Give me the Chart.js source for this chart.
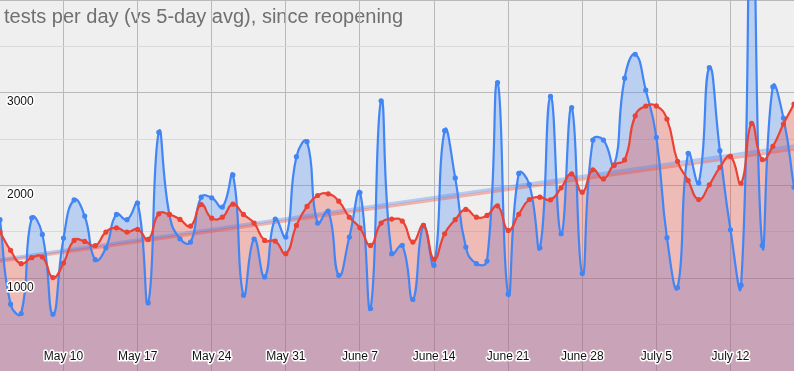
<!DOCTYPE html>
<html>
<head>
    <title>tests per day</title>
    <script src="https://cdn.jsdelivr.net/npm/chart.js@4/dist/chart.umd.min.js"></script>
    <style>
        body { margin: 0; background: #efefef; }
    </style>
</head>
<body>
    <canvas id="myChart" width="794" height="371"></canvas>
    <script>
        // day 0 = May 4 (reopening), one value per day up to July 18
        var testsPerDay = [1631, 720, 620, 1652, 1473, 612, 1433, 1845, 1670, 1200,
            1326, 1688, 1631, 1810, 735, 2573, 1688, 1426, 1390, 1874,
            1867, 1767, 2114, 817, 1422, 1014, 1638, 1444, 2311, 2472,
            1595, 1724, 1032, 1444, 1924, 674, 2913, 1265, 1354, 771,
            1570, 1140, 2591, 2082, 1337, 1157, 1186, 3110, 828, 2130,
            2010, 1329, 2960, 1480, 2841, 1050, 2490, 2490, 2215, 3157,
            3415, 3028, 2519, 1437, 900, 2347, 2028, 3271, 2376, 1523,
            925, 5100, 1354, 3064, 2727, 1981];
        var avg5Day = [1498, 1301, 1157, 1222, 1229, 1007, 1164, 1408, 1397, 1351,
            1498, 1544, 1498, 1526, 1419, 1695, 1688, 1634, 1562, 1795,
            1648, 1659, 1799, 1688, 1595, 1408, 1401, 1265, 1570, 1774,
            1892, 1910, 1831, 1659, 1544, 1354, 1595, 1638, 1616, 1390,
            1570, 1204, 1480, 1631, 1742, 1659, 1677, 1781, 1516, 1690,
            1849, 1874, 1846, 1975, 2125, 1928, 2168, 2071, 2222, 2276,
            2752, 2856, 2858, 2716, 2261, 2053, 1849, 2007, 2196, 2315,
            2024, 2669, 2279, 2422, 2663, 2878];
        // trend lines, first and last day
        var trendDays = [0, 75];
        var testsTrend = [1201, 2426];
        var avgTrend = [1183, 2390];

        var tickDays = [6, 13, 20, 27, 34, 41, 48, 55, 62, 69];
        var tickLabels = ['May 10', 'May 17', 'May 24', 'May 31', 'June 7', 'June 14',
            'June 21', 'June 28', 'July 5', 'July 12'];
        var yLabels = [1000, 2000, 3000];
        var title = 'tests per day (vs 5-day avg), since reopening';

        var BLUE = 'rgb(66, 133, 244)';
        var RED = 'rgb(234, 67, 53)';

        function toPoints(arr) {
            return arr.map(function (v, i) { return { x: i, y: v }; });
        }
        function trendPoints(arr) {
            return arr.map(function (v, i) { return { x: trendDays[i], y: v }; });
        }

        var labelPlugin = {
            id: 'labels',
            beforeDraw: function (chart) {
                var c = chart.ctx;
                c.save();
                c.fillStyle = '#efefef';
                c.fillRect(0, 0, chart.width, chart.height);
                c.fillStyle = '#707070';
                c.font = '20px Arial, "Liberation Sans"';
                c.textBaseline = 'middle';
                c.fillText(title, 4, 17);
                c.restore();
            },
            afterDraw: function (chart) {
                var c = chart.ctx;
                var xs = chart.scales.x, ys = chart.scales.y;
                c.save();
                c.font = '12px Arial, "Liberation Sans"';
                c.textBaseline = 'middle';
                c.lineJoin = 'round';
                c.lineWidth = 3;
                c.strokeStyle = '#ffffff';
                c.fillStyle = '#111111';
                c.textAlign = 'left';
                yLabels.forEach(function (v) {
                    var y = ys.getPixelForValue(v) + 9;
                    c.strokeText(String(v), 7, y);
                    c.fillText(String(v), 7, y);
                });
                c.textAlign = 'center';
                tickDays.forEach(function (d, i) {
                    var x = xs.getPixelForValue(d);
                    c.strokeText(tickLabels[i], x, 357);
                    c.fillText(tickLabels[i], x, 357);
                });
                c.restore();
            }
        };

        var ctx = document.getElementById('myChart').getContext('2d');
        var myChart = new Chart(ctx, {
            type: 'line',
            data: {
                datasets: [{
                    label: '5-day avg',
                    data: toPoints(avg5Day),
                    borderColor: RED,
                    backgroundColor: 'rgba(234, 67, 53, 0.3)',
                    pointBackgroundColor: RED,
                    borderWidth: 2.2,
                    pointRadius: 1.5,
                    fill: 'origin',
                    tension: 0.5,
                    order: 1
                }, {
                    label: 'tests per day',
                    data: toPoints(testsPerDay),
                    borderColor: BLUE,
                    backgroundColor: 'rgba(66, 133, 244, 0.3)',
                    pointBackgroundColor: BLUE,
                    borderWidth: 2.2,
                    pointRadius: 1.5,
                    fill: 'origin',
                    tension: 0.5,
                    order: 2
                }, {
                    label: 'avg trend',
                    data: trendPoints(avgTrend),
                    borderColor: 'rgba(234, 67, 53, 0.35)',
                    borderWidth: 3,
                    pointRadius: 0,
                    fill: false,
                    order: 3
                }, {
                    label: 'tests trend',
                    data: trendPoints(testsTrend),
                    borderColor: 'rgba(66, 133, 244, 0.35)',
                    borderWidth: 3,
                    pointRadius: 0,
                    fill: false,
                    order: 4
                }]
            },
            options: {
                responsive: false,
                animation: false,
                devicePixelRatio: 1,
                layout: { padding: 0, autoPadding: false },
                plugins: {
                    legend: { display: false },
                    tooltip: { enabled: false },
                    filler: { drawTime: 'beforeDatasetsDraw' }
                },
                scales: {
                    x: {
                        type: 'linear',
                        min: 0,
                        max: 75,
                        afterBuildTicks: function (scale) {
                            scale.ticks = tickDays.map(function (d) { return { value: d }; });
                        },
                        ticks: { display: false },
                        border: { display: false },
                        grid: { color: '#b9b9b9', lineWidth: 1, drawTicks: false }
                    },
                    y: {
                        min: 0,
                        max: 4000,
                        ticks: { display: false, stepSize: 500 },
                        border: { display: false },
                        grid: {
                            drawTicks: false,
                            color: function (c) {
                                return c.tick.value % 1000 === 0 ? '#b9b9b9' : '#d9d9d9';
                            }
                        }
                    }
                }
            },
            plugins: [labelPlugin]
        });
    </script>
</body>
</html>
